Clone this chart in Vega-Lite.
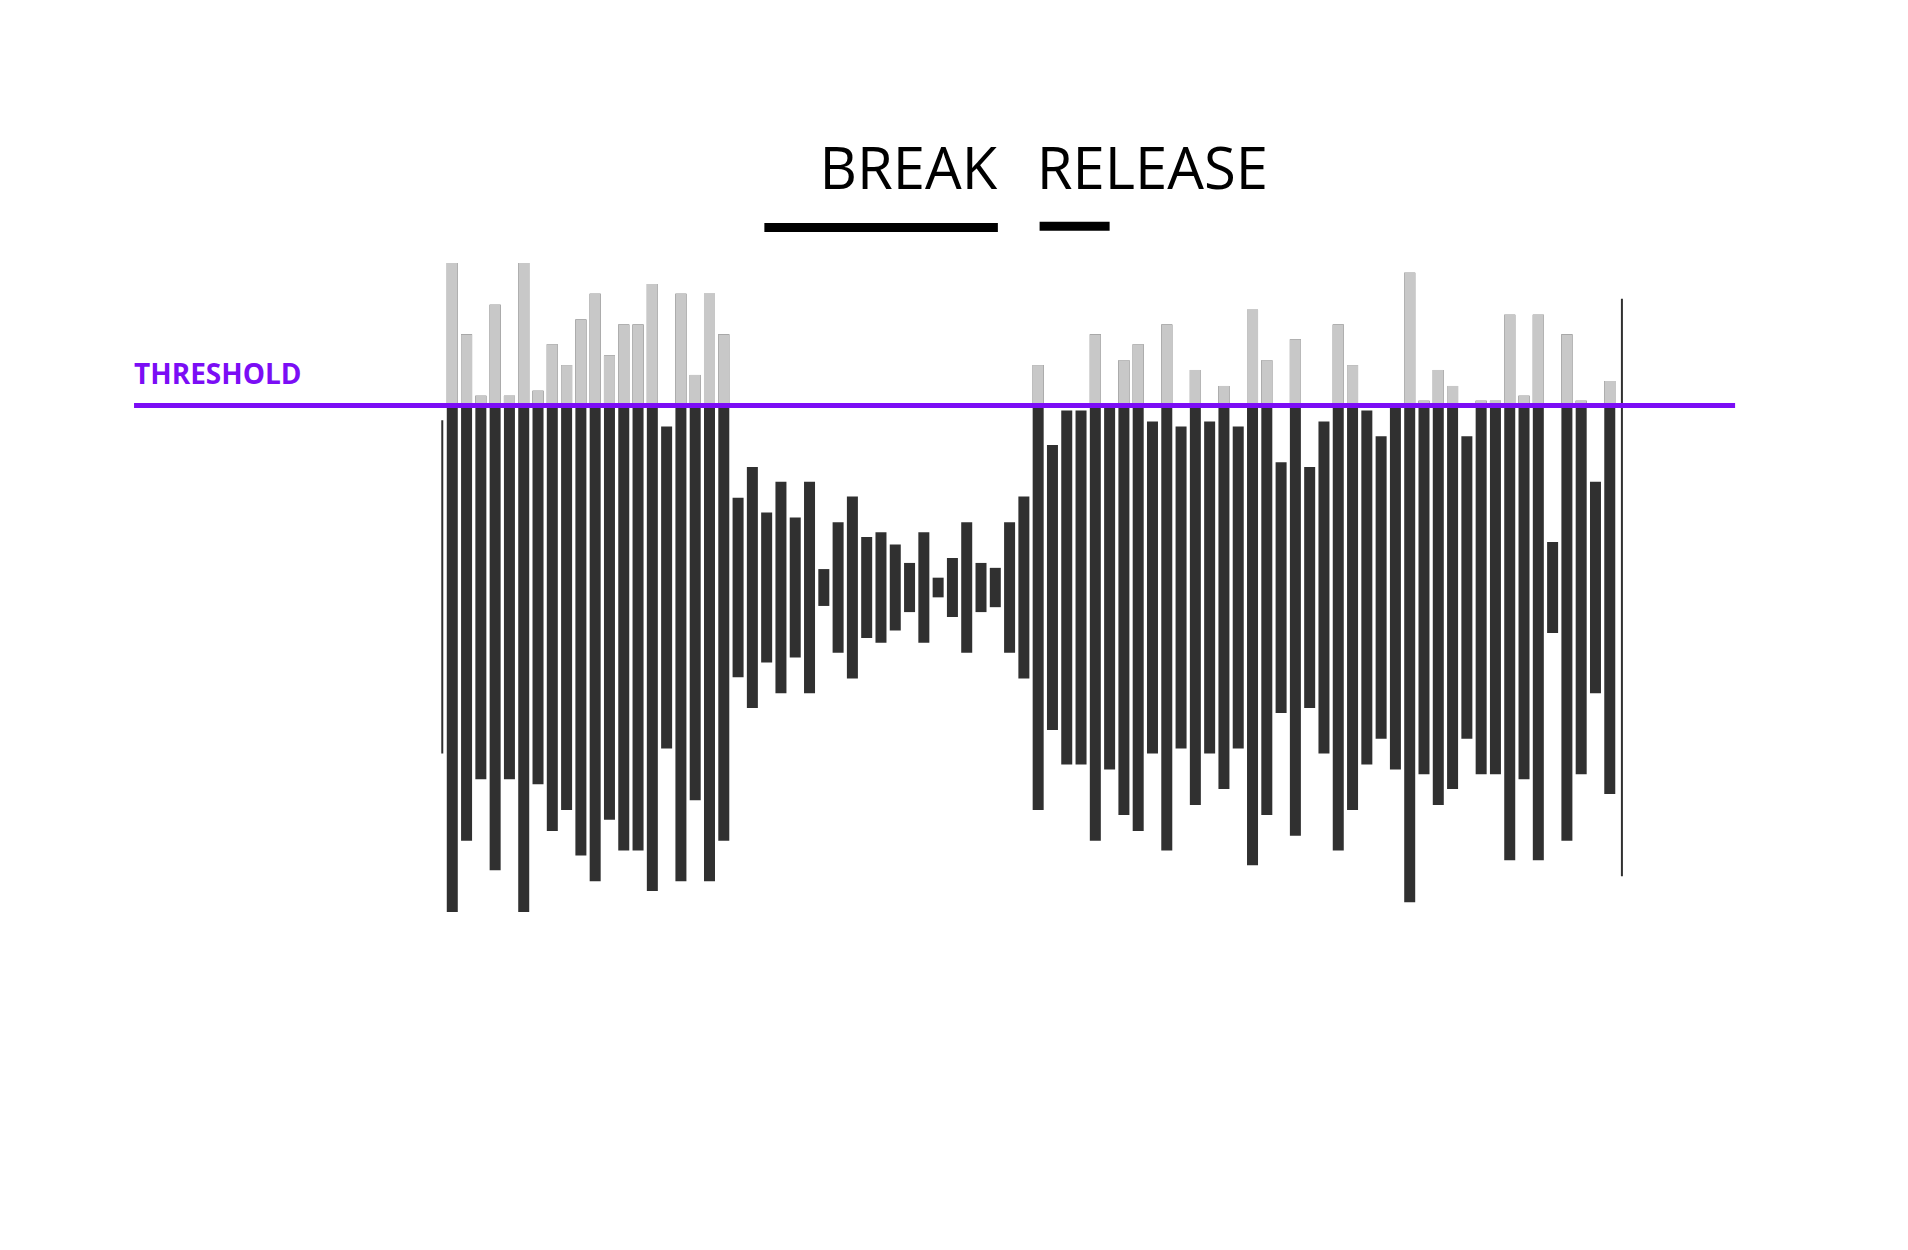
{
"$schema":"https://vega.github.io/schema/vega-lite/v6.json",
"width":1908,"height":1250,"autosize":{"type":"fit","contains":"padding"},"padding":0,
"background":"white","config":{"view":{"stroke":null}},
"datasets":{
"bars":[
{"i":0,"top":264,"bottom":-264},{"i":1,"top":206,"bottom":-206},{"i":2,"top":156,"bottom":-156},{"i":3,"top":230,"bottom":-230},{"i":4,"top":156,"bottom":-156},{"i":5,"top":264,"bottom":-264},{"i":6,"top":160,"bottom":-160},{"i":7,"top":198,"bottom":-198},{"i":8,"top":181,"bottom":-181},{"i":9,"top":218,"bottom":-218},
{"i":10,"top":239,"bottom":-239},{"i":11,"top":189,"bottom":-189},{"i":12,"top":214,"bottom":-214},{"i":13,"top":214,"bottom":-214},{"i":14,"top":247,"bottom":-247},{"i":15,"top":131,"bottom":-131},{"i":16,"top":239,"bottom":-239},{"i":17,"top":173,"bottom":-173},{"i":18,"top":239,"bottom":-239},{"i":19,"top":206,"bottom":-206},
{"i":20,"top":73,"bottom":-73},{"i":21,"top":98,"bottom":-98},{"i":22,"top":61,"bottom":-61},{"i":23,"top":86,"bottom":-86},{"i":24,"top":57,"bottom":-57},{"i":25,"top":86,"bottom":-86},{"i":26,"top":15,"bottom":-15},{"i":27,"top":53,"bottom":-53},{"i":28,"top":74,"bottom":-74},{"i":29,"top":41,"bottom":-41},
{"i":30,"top":45,"bottom":-45},{"i":31,"top":35,"bottom":-35},{"i":32,"top":20,"bottom":-20},{"i":33,"top":45,"bottom":-45},{"i":34,"top":8,"bottom":-8},{"i":35,"top":24,"bottom":-24},{"i":36,"top":53,"bottom":-53},{"i":37,"top":20,"bottom":-20},{"i":38,"top":16,"bottom":-16},{"i":39,"top":53,"bottom":-53},{"i":40,"top":74,"bottom":-74},
{"i":41,"top":181,"bottom":-181},{"i":42,"top":116,"bottom":-116},{"i":43,"top":144,"bottom":-144},{"i":44,"top":144,"bottom":-144},{"i":45,"top":206,"bottom":-206},{"i":46,"top":148,"bottom":-148},{"i":47,"top":185,"bottom":-185},{"i":48,"top":198,"bottom":-198},{"i":49,"top":135,"bottom":-135},{"i":50,"top":214,"bottom":-214},
{"i":51,"top":131,"bottom":-131},{"i":52,"top":177,"bottom":-177},{"i":53,"top":135,"bottom":-135},{"i":54,"top":164,"bottom":-164},{"i":55,"top":131,"bottom":-131},{"i":56,"top":226,"bottom":-226},{"i":57,"top":185,"bottom":-185},{"i":58,"top":102,"bottom":-102},{"i":59,"top":202,"bottom":-202},{"i":60,"top":98,"bottom":-98},
{"i":61,"top":135,"bottom":-135},{"i":62,"top":214,"bottom":-214},{"i":63,"top":181,"bottom":-181},{"i":64,"top":144,"bottom":-144},{"i":65,"top":123,"bottom":-123},{"i":66,"top":148,"bottom":-148},{"i":67,"top":256,"bottom":-256},{"i":68,"top":152,"bottom":-152},{"i":69,"top":177,"bottom":-177},{"i":70,"top":164,"bottom":-164},
{"i":71,"top":123,"bottom":-123},{"i":72,"top":152,"bottom":-152},{"i":73,"top":152,"bottom":-152},{"i":74,"top":222,"bottom":-222},{"i":75,"top":156,"bottom":-156},{"i":76,"top":222,"bottom":-222},{"i":77,"top":37,"bottom":-37},{"i":78,"top":206,"bottom":-206},{"i":79,"top":152,"bottom":-152},{"i":80,"top":86,"bottom":-86},{"i":81,"top":168,"bottom":-168}
],
"thin":[{"i":-0.7,"top":136,"bottom":-135},{"i":81.85,"top":235,"bottom":-235}],
"labels":[{"i":25.7,"y":338,"t":"BREAK"},{"i":40.9,"y":338,"t":"RELEASE"}],
"under":[{"i":21.84,"i2":38.18,"y":293},{"i":41.1,"i2":46.0,"y":294}]
},
"encoding":{
 "x":{"field":"i","type":"quantitative","scale":{"domain":[-31.65,101.87],"nice":false,"zero":false},"axis":null},
 "y":{"field":"top","type":"quantitative","scale":{"domain":[-539,478],"nice":false,"zero":false},"axis":null}
},
"layer":[
{"data":{"name":"bars"},
 "mark":{"type":"rule","strokeWidth":11,"color":"#303030"},
 "encoding":{"y2":{"field":"bottom"}}},
{"data":{"name":"bars"},"transform":[{"filter":"datum.top > 148"}],
 "mark":{"type":"rule","strokeWidth":11,"color":"#c8c8c8"},
 "encoding":{"y2":{"datum":148}}},
{"data":{"name":"thin"},"mark":{"type":"rule","strokeWidth":2,"color":"#303030"},
 "encoding":{"y2":{"field":"bottom"}}},
{"data":{"values":[{"i":-22.27,"i2":89.77,"top":148}]},"mark":{"type":"rule","strokeWidth":5,"color":"#7b0df5"},
 "encoding":{"x2":{"field":"i2"}}},
{"data":{"values":[{"i":-22.27,"top":172,"t":"THRESHOLD"}]},"mark":{"type":"text","font":"Open Sans","fontWeight":"bold","fontSize":28,"color":"#7b0df5","align":"left","baseline":"middle"},
 "encoding":{"text":{"field":"t"}}},
{"data":{"name":"labels"},"mark":{"type":"text","font":"Open Sans","fontSize":58,"color":"#000000","align":"left","baseline":"middle"},
 "encoding":{"y":{"field":"y","type":"quantitative"},"text":{"field":"t"}}},
{"data":{"name":"under"},"mark":{"type":"rule","strokeWidth":9,"color":"#000000"},
 "encoding":{"x2":{"field":"i2"},"y":{"field":"y","type":"quantitative"}}}
]
}
